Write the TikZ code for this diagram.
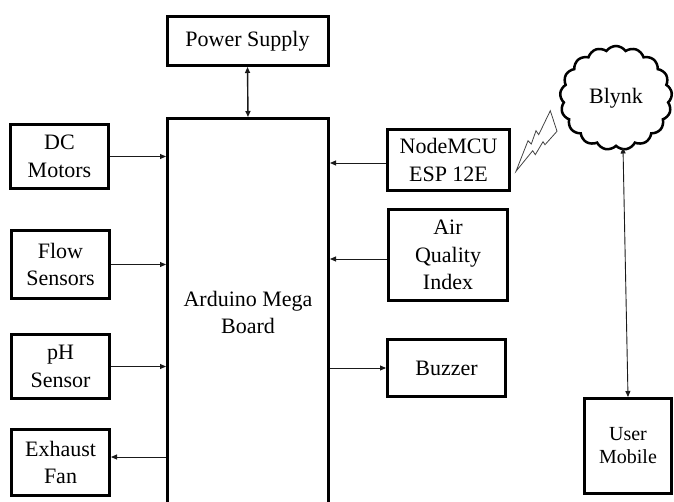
\documentclass[tikz,border=0pt]{standalone}
\usepackage{fontspec}
\setmainfont{Liberation Serif}
\usetikzlibrary{shapes.symbols,arrows.meta}

\begin{document}
\begin{tikzpicture}[x=1pt,y=-1pt,
    blockbox/.style={draw=borderColour, line width=3pt, align=center, inner sep=0pt,
        font=\fontsize{22}{27.5}\selectfont},
    link/.style={draw=lineColour, line width=0.9pt, -{Triangle[length=6pt,width=5pt]}},
    twoway/.style={link, {Triangle[length=6pt,width=5pt]}-{Triangle[length=6pt,width=5pt]}}]
    \definecolor{borderColour}{HTML}{000000}
    \definecolor{lineColour}{HTML}{1A1A1A}
    \definecolor{boltColour}{HTML}{444444}

    \useasboundingbox (0,0) rectangle (674,502);
    \clip (0,0) rectangle (674,502);

    % Main board and power
    \node[blockbox, minimum width=161pt, minimum height=49pt] (power) at (247.5,41) {Power Supply};
    \node[blockbox, minimum width=161pt, minimum height=387.5pt] (mega) at (248,312.25) {Arduino Mega\\Board};

    % Left blocks
    \node[blockbox, minimum width=98pt, minimum height=64pt] (motors) at (59.5,156.5) {DC\\Motors};
    \node[blockbox, minimum width=98pt, minimum height=68pt] (flow) at (60.5,264.5) {Flow\\Sensors};
    \node[blockbox, minimum width=98pt, minimum height=64pt] (ph) at (60.5,366.5) {pH\\Sensor};
    \node[blockbox, minimum width=98pt, minimum height=66pt] (fan) at (60.5,462.5) {Exhaust\\Fan};

    % Right blocks
    \node[blockbox, minimum width=122pt, minimum height=61pt] (nodemcu) at (448.5,160) {NodeMCU\\ESP 12E};
    \node[blockbox, minimum width=119pt, minimum height=91pt] (air) at (448,255) {Air\\Quality\\Index};
    \node[blockbox, minimum width=118pt, minimum height=57pt] (buzzer) at (446.5,368) {Buzzer};
    \node[blockbox, minimum width=87pt, minimum height=95pt,
        font=\fontsize{20}{23}\selectfont] (mobile) at (628,446) {User\\Mobile};

    % Cloud
    \node[cloud, draw=borderColour, line width=2.5pt, cloud puffs=17, cloud puff arc=110,
        cloud ignores aspect, minimum width=112pt, minimum height=104pt, inner sep=0pt,
        font=\fontsize{22}{27.5}\selectfont] (blynk) at (616,98) {Blynk};

    % Connections
    \draw[twoway, line width=1.4pt] (power.south) -- (mega.north);
    \draw[link] (motors.east) -- (motors.east -| mega.west);
    \draw[link] (flow.east) -- (flow.east -| mega.west);
    \draw[link] (ph.east) -- (ph.east -| mega.west);
    \draw[link] ([yshift=5.5pt]fan.east -| mega.west) -- ([yshift=5.5pt]fan.east);
    \draw[link] ([yshift=-3pt]nodemcu.west) -- ([yshift=-3pt]nodemcu.west -| mega.east);
    \draw[link] ([yshift=-4pt]air.west) -- ([yshift=-4pt]air.west -| mega.east);
    \draw[link] (buzzer.west -| mega.east) -- (buzzer.west);
    \draw[twoway] ([xshift=7pt]blynk.south) -- (mobile.north);

    % Wireless bolt
    \draw[boltColour, line width=0.8pt, line join=miter]
        (516,171.3) -- (528,140.7) -- (531.3,144) -- (536,130.7) -- (538.7,134.7)
        -- (550.3,110.7) -- (557,131.3) -- (545,144.7) -- (543,141.7)
        -- (535.3,154.7) -- (532.7,150.7) -- cycle;

\end{tikzpicture}
\end{document}
